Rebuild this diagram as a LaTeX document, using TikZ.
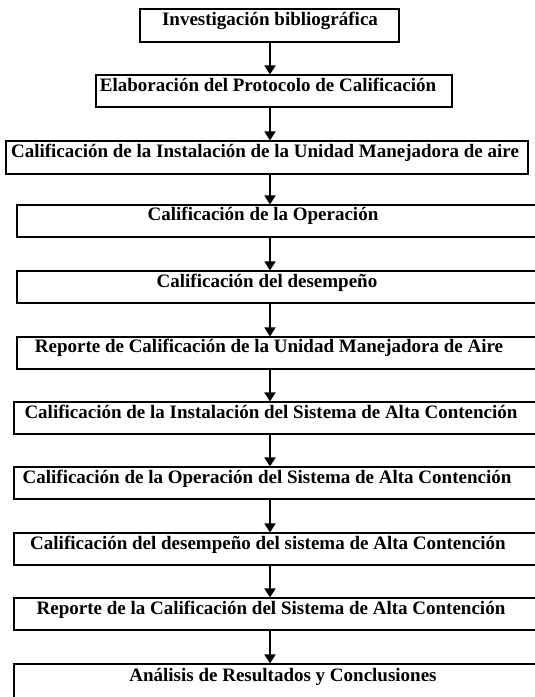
\documentclass[tikz,border=0pt]{standalone}
\usepackage{fontspec}
\setmainfont{Liberation Serif}
\usetikzlibrary{arrows.meta}

\begin{document}
\begin{tikzpicture}[x=1pt, y=-1pt,
    caja/.style={draw, line width=1.1pt, inner sep=0pt},
    texto/.style={anchor=base, inner sep=0pt, font=\fontsize{19}{22}\selectfont\bfseries},
    flecha/.style={line width=1.6pt, -{Triangle[width=11pt,length=9pt]}}]
        \useasboundingbox (0,0) rectangle (535,697);
        \coordinate (eje) at (270,0);

        % cajas
        \node[caja, minimum width=259pt, minimum height=33pt] (b1) at (269.5,25.5) {};
        \node[caja, minimum width=356pt, minimum height=32pt] (b2) at (274,91) {};
        \node[caja, minimum width=522pt, minimum height=33pt] (b3) at (267,157.5) {};
        \node[caja, minimum width=528pt, minimum height=32pt] (b4) at (281,221) {};
        \node[caja, minimum width=528pt, minimum height=32pt] (b5) at (281,287) {};
        \node[caja, minimum width=528pt, minimum height=32pt] (b6) at (281,353) {};
        \node[caja, minimum width=531pt, minimum height=32pt] (b7) at (279.5,418) {};
        \node[caja, minimum width=531pt, minimum height=32pt] (b8) at (279.5,483) {};
        \node[caja, minimum width=531pt, minimum height=32pt] (b9) at (279.5,549) {};
        \node[caja, minimum width=531pt, minimum height=32pt] (b10) at (279.5,614) {};
        \node[caja, minimum width=531pt, minimum height=46pt] (b11) at (279.5,687) {};

        % textos
        \node[texto] (t1) at (270,25) {Investigación bibliográfica};
        \node[texto] (t2) at (268,91) {Elaboración del Protocolo de Calificación};
        \node[texto] (t3) at (265,157) {Calificación de la Instalación de la Unidad Manejadora de aire};
        \node[texto] (t4) at (263,220) {Calificación de la Operación};
        \node[texto] (t5) at (267,287) {Calificación del desempeño};
        \node[texto] (t6) at (269,352) {Reporte de Calificación de la Unidad Manejadora de Aire};
        \node[texto] (t7) at (271,418) {Calificación de la Instalación del Sistema de Alta Contención};
        \node[texto] (t8) at (267,483) {Calificación de la Operación del Sistema de Alta Contención};
        \node[texto] (t9) at (268,549) {Calificación del desempeño del sistema de Alta Contención};
        \node[texto] (t10) at (271,614) {Reporte de la Calificación del Sistema de Alta Contención};
        \node[texto] (t11) at (283,681) {Análisis de Resultados y Conclusiones};

        % flechas
        \foreach \a/\b in {b1/b2, b2/b3, b3/b4, b4/b5, b5/b6, b6/b7, b7/b8, b8/b9, b9/b10, b10/b11}
            \draw[flecha] (\a.south -| eje) -- (\b.north -| eje);
    \end{tikzpicture}
\end{document}
